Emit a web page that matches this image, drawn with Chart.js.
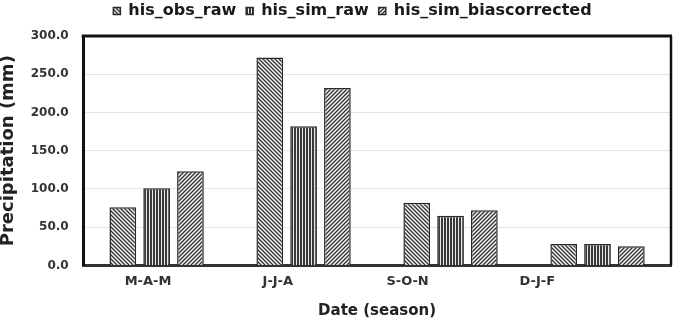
<!DOCTYPE html>
<html>
<head>
<meta charset="utf-8">
<script src="https://cdn.jsdelivr.net/npm/chart.js@4/dist/chart.umd.min.js"></script>
<style>
  html, body { margin: 0; padding: 0; background: #ffffff; }
  #wrap { width: 674px; height: 336px; }
</style>
</head>
<body>
<div id="wrap"><canvas id="c" width="674" height="336"></canvas></div>
<script>
// ---- data ----
const categories = ['M-A-M', 'J-J-A', 'S-O-N', 'D-J-F'];
const seriesNames = ['his_obs_raw', 'his_sim_raw', 'his_sim_biascorrected'];
const hisObsRaw = [76, 272, 82, 28];
const hisSimRaw = [101, 182, 65, 28];
const hisSimBiascorrected = [123, 232, 72, 25];
const yTicks = [0, 50, 100, 150, 200, 250, 300];

// ---- hatch patterns ----
function makePattern(kind) {
  const c = document.createElement('canvas');
  const ctx = c.getContext('2d');
  if (kind === 'vertical') {
    c.width = 3; c.height = 3;
    ctx.fillStyle = '#e8e8e8';
    ctx.fillRect(0, 0, 3, 3);
    ctx.fillStyle = '#3a3a3a';
    ctx.fillRect(0, 0, 2, 3);
  } else {
    const s = 4;
    c.width = s; c.height = s;
    ctx.fillStyle = '#f2f2f2';
    ctx.fillRect(0, 0, s, s);
    ctx.strokeStyle = '#333333';
    ctx.lineWidth = 1.3;
    ctx.beginPath();
    if (kind === 'back') {
      ctx.moveTo(-1, -1); ctx.lineTo(s + 1, s + 1);
      ctx.moveTo(-1, s - 1); ctx.lineTo(1, s + 1);
      ctx.moveTo(s - 1, -1); ctx.lineTo(s + 1, 1);
    } else {
      ctx.moveTo(-1, s + 1); ctx.lineTo(s + 1, -1);
      ctx.moveTo(-1, 1); ctx.lineTo(1, -1);
      ctx.moveTo(s - 1, s + 1); ctx.lineTo(s + 1, s - 1);
    }
    ctx.stroke();
  }
  return ctx.createPattern(c, 'repeat');
}

const framePlugin = {
  id: 'frame',
  afterLayout(chart) {
    const lg = chart.legend;
    if (lg) { lg.left += 17; lg.right += 17; lg.top -= 7; lg.bottom -= 7; }
  },
  afterDatasetsDraw(chart) {
    const a = chart.chartArea, ctx = chart.ctx;
    ctx.save();
    ctx.strokeStyle = '#111111';
    ctx.lineWidth = 3;
    ctx.beginPath();
    ctx.moveTo(a.left - 1.5, a.top);
    ctx.lineTo(a.right + 1, a.top);
    ctx.stroke();
    ctx.lineWidth = 2.5;
    ctx.beginPath();
    ctx.moveTo(a.right, a.top);
    ctx.lineTo(a.right, a.bottom);
    ctx.stroke();
    ctx.restore();
  }
};

Chart.defaults.font.family = "'DejaVu Sans', sans-serif";
Chart.defaults.color = '#333333';

const common = { borderColor: '#2a2a2a', borderWidth: 1.5, categoryPercentage: 0.69, barPercentage: 0.79 };

new Chart(document.getElementById('c'), {
  type: 'bar',
  data: {
    labels: categories,
    datasets: [
      Object.assign({ label: seriesNames[0], data: hisObsRaw, backgroundColor: makePattern('back') }, common),
      Object.assign({ label: seriesNames[1], data: hisSimRaw, backgroundColor: makePattern('vertical') }, common),
      Object.assign({ label: seriesNames[2], data: hisSimBiascorrected, backgroundColor: makePattern('fwd') }, common)
    ]
  },
  options: {
    responsive: false,
    animation: false,
    layout: { padding: { left: 0, right: 3, top: 0, bottom: 16 } },
    plugins: {
      legend: {
        position: 'top',
        labels: {
          boxWidth: 7, boxHeight: 7, padding: 10,
          color: '#1a1a1a',
          font: { size: 16, weight: 'bold' }
        }
      },
      tooltip: { enabled: false }
    },
    scales: {
      x: {
        type: 'category',
        position: 'bottom',
        grid: { display: false, drawTicks: false },
        border: { display: true, color: '#333333', width: 3 },
        ticks: { display: false }
      },
      xl: {
        type: 'linear',
        position: 'bottom',
        offset: false,
        min: -0.5,
        max: 4.03,
        grid: { display: false, drawTicks: false, offset: false },
        border: { display: false },
        ticks: {
          stepSize: 1,
          autoSkip: false,
          maxRotation: 0,
          padding: 8,
          color: '#333333',
          font: { size: 13, weight: 'bold' },
          callback: (v) => (Number.isInteger(v) && categories[v] !== undefined) ? categories[v] : null
        },
        title: {
          display: true,
          text: 'Date (season)',
          color: '#222222',
          font: { size: 15, weight: 'bold' },
          padding: { top: 5, bottom: 0 }
        }
      },
      y: {
        min: 0,
        max: 300,
        afterBuildTicks: (axis) => { axis.ticks = yTicks.map(v => ({ value: v })); },
        grid: { color: '#e4e4e4', lineWidth: 1, drawTicks: false },
        border: { display: true, color: '#111111', width: 3 },
        ticks: {
          padding: 14.5,
          color: '#333333',
          font: { size: 12, weight: 'bold' },
          callback: (v) => Number(v).toFixed(1)
        },
        title: {
          display: true,
          text: 'Precipitation (mm)',
          color: '#222222',
          font: { size: 18, weight: 'bold', lineHeight: 0.9 },
          padding: { top: 0, bottom: 0 }
        }
      }
    }
  },
  plugins: [framePlugin]
});
</script>
</body>
</html>
